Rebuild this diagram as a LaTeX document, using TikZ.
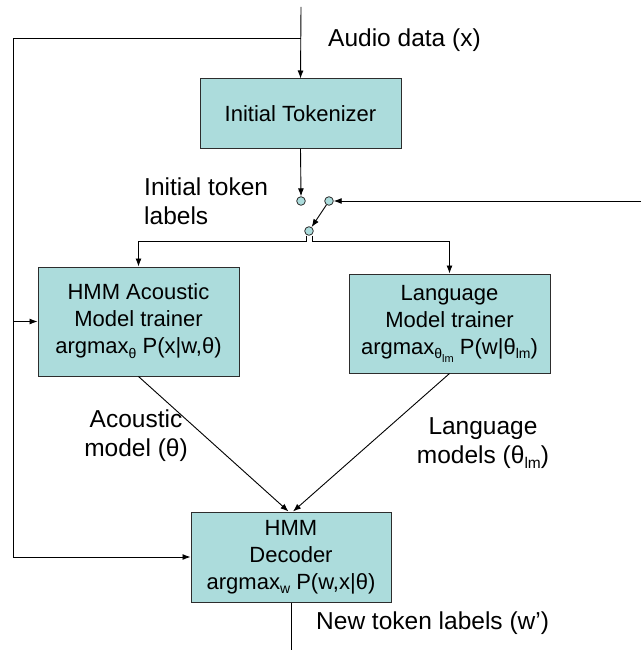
\documentclass[tikz,border=0pt]{standalone}
\usepackage{fontspec}
\setmainfont{Liberation Sans}
\usetikzlibrary{arrows.meta}
\definecolor{boxfill}{RGB}{172,220,220}
\definecolor{edgecol}{RGB}{45,45,45}
\newcommand{\lsub}[1]{\raisebox{-0.22em}{\fontsize{14}{14}\selectfont #1}}
\newcommand{\llsub}[1]{\raisebox{-0.22em}{\fontsize{11}{11}\selectfont #1}}
\newcommand{\msub}[1]{\raisebox{-0.22em}{\fontsize{15.5}{15.5}\selectfont #1}}
\begin{document}
\begin{tikzpicture}[x=1pt,y=-1pt,
  box/.style={draw=edgecol, line width=1pt, fill=boxfill, inner sep=0pt, align=center, font=\fontsize{22}{27}\selectfont},
  dot/.style={circle, draw=edgecol, fill=boxfill, minimum size=8.6pt, inner sep=0pt, line width=0.8pt},
  lab/.style={inner sep=0pt, font=\fontsize{24.5}{29}\selectfont},
  conn/.style={draw=black, line width=0.9pt},
  arr/.style={conn, -{Latex[length=8pt,width=6pt]}}]
\useasboundingbox (0,0) rectangle (641,650);

% boxes
\node[box, minimum width=201pt, minimum height=69pt] (tok) at (300.5,113.5) {Initial Tokenizer};
\node[box, minimum width=201pt, minimum height=109pt] (ac) at (138.5,321.5)
  {HMM Acoustic\\Model trainer\\argmax\lsub{θ} P(x|w,θ)};
\node[box, minimum width=201pt, minimum height=99pt] (lmb) at (449.5,323.5)
  {Language\\Model trainer\\argmax\lsub{θ\llsub{lm}} P(w|θ\lsub{lm})};
\node[box, minimum width=200pt, minimum height=90pt] (dec) at (291,557)
  {HMM\\Decoder\\argmax\lsub{w} P(w,x|θ)};

% switch dots
\node[dot] (c1) at (301,201) {};
\node[dot] (c2) at (329,201) {};
\node[dot] (c3) at (309,231) {};

% labels
\node[lab, anchor=west] (audio) at (328,40) {Audio data (x)};
\node[lab, anchor=west, align=left] (itl) at (144,201) {Initial token\\labels};
\node[lab, align=center] (aml) at (136,436) {Acoustic\\model (θ)};
\node[lab, align=center] (lml) at (483,443) {Language\\models (θ\msub{lm})};
\node[lab, anchor=west] (ntl) at (316,623) {New token labels (w’)};

% coordinates
\coordinate (top) at (301,7);
\coordinate (split) at (301,38);
\coordinate (lt) at (13,38);
\coordinate (lb) at (13,557);
\coordinate (rin) at (641,201);
\coordinate (jl) at (306,241);
\coordinate (jr) at (312,241);
\coordinate (out) at (291,650);

% connectors
\draw[arr] (top) -- (tok.north);
\draw[conn] (split) -- (lt) -- (lb);
\draw[arr] (lb) -- (dec.west);
\draw[arr] (lt |- ac.west) -- (ac.west);
\draw[arr] (tok.south) -- (c1.north);
\draw[arr] (rin) -- (c2.east);
\draw[arr] (c2) -- (c3);
\draw[arr] (c3.south -| jl) -- (jl) -| (ac.north);
\draw[arr] (c3.south -| jr) -- (jr) -| (lmb.north);
\draw[arr] (ac.south) -- ([xshift=-2.5pt]dec.north);
\draw[arr] (lmb.south) -- ([xshift=2pt]dec.north);
\draw[conn] (dec.south) -- (out);
\end{tikzpicture}
\end{document}
